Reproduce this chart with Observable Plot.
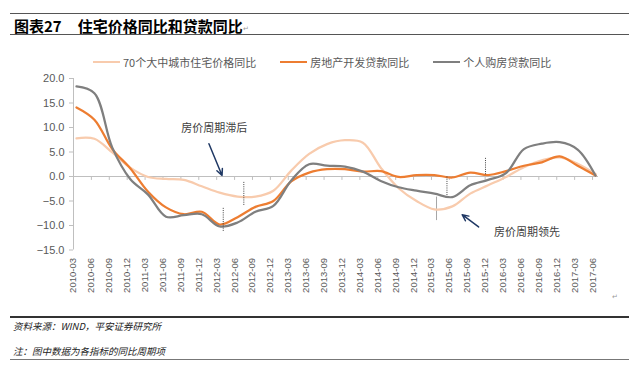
<!DOCTYPE html>
<html><head><meta charset="utf-8">
<script src="https://cdn.jsdelivr.net/npm/d3@7"></script>
<script src="https://cdn.jsdelivr.net/npm/@observablehq/plot@0.6"></script>
<style>
html,body{margin:0;padding:0;background:#fff;}
#wrap{position:relative;width:640px;height:374px;overflow:hidden;font-family:"Noto Sans CJK SC","Liberation Sans",sans-serif;}
#chart{position:absolute;left:0;top:0;}
.hr{position:absolute;left:10px;width:619px;}
#title{position:absolute;left:14px;top:16px;font-size:15px;font-weight:bold;color:#000;line-height:19px;white-space:nowrap;}
#title .num{margin-right:16px;}
#legend{position:absolute;left:93px;top:54px;display:flex;gap:24px;font-size:11px;color:#595959;line-height:16px;white-space:nowrap;}
#legend .item{display:flex;align-items:center;gap:3px;}
#legend .sw{display:inline-block;width:27px;height:2.25px;}
.foot{position:absolute;left:13px;font-size:9.5px;font-style:italic;color:#222;line-height:14px;white-space:nowrap;}
.pm{position:absolute;font-size:7px;color:#999;line-height:8px;}
</style></head>
<body>
<div id="wrap">
  <div id="chart"></div>
  <div class="hr" style="top:12.5px;height:1px;background:#555;"></div>
  <div id="title"><span class="num">图表27</span>住宅价格同比和贷款同比</div>
  <span class="pm" style="left:243px;top:24px;">↵</span>
  <div class="hr" style="top:33.5px;height:1px;background:#555;"></div>
  <div id="legend"></div>
  <span class="pm" style="left:612px;top:292px;">↵</span>
  <div class="hr" style="top:316px;height:1.5px;background:#333;"></div>
  <div class="foot" style="top:319px;">资料来源：WIND，平安证券研究所</div>
  <div class="foot" style="top:344px;">注：图中数据为各指标的同比周期项</div>
  <div class="hr" style="top:358.5px;height:1px;background:#777;"></div>
</div>
<script>
// ---- data ----
const quarters = ["2010-03","2010-06","2010-09","2010-12","2011-03","2011-06","2011-09","2011-12",
  "2012-03","2012-06","2012-09","2012-12","2013-03","2013-06","2013-09","2013-12",
  "2014-03","2014-06","2014-09","2014-12","2015-03","2015-06","2015-09","2015-12",
  "2016-03","2016-06","2016-09","2016-12","2017-03","2017-06"];
const housePrice = [7.8, 7.7, 4.9, 1.8, -0.1, -0.5, -0.7, -2.0, -3.3, -4.1, -4.1, -2.9,
  1.2, 4.6, 6.6, 7.4, 6.9, 1.8, -2.4, -5.0, -6.7, -6.1, -3.5, -1.8, -0.1, 1.9, 3.3, 3.9, 2.6, 0.5];
const devLoan = [14.1, 11.6, 5.6, 1.7, -3.1, -6.3, -7.7, -7.2, -9.8, -8.3, -6.2, -5.0,
  -1.0, 0.8, 1.5, 1.5, 1.0, 1.1, -0.1, 0.3, 0.3, -0.2, 0.8, 0.3, 1.1, 2.2, 2.9, 4.1, 2.2, 0.2];
const mortgage = [18.4, 17.0, 5.9, -0.5, -3.7, -8.2, -7.9, -7.7, -10.2, -9.4, -7.2, -6.0,
  -0.8, 2.5, 2.2, 2.0, 1.0, -0.9, -2.2, -2.9, -3.5, -4.2, -1.8, -0.7, 0.7, 5.6, 6.7, 7.0, 5.5, 0.2];
const seriesNames = ["70个大中城市住宅价格同比","房地产开发贷款同比","个人购房贷款同比"];
const seriesColors = ["#F8CBAD","#ED7D31","#7F7F7F"];
const yTicks = [-15, -10, -5, 0, 5, 10, 15, 20];
const notes = ["房价周期滞后","房价周期领先"];

// ---- helpers ----
const monthIdx = q => { const [y, m] = q.split("-").map(Number); return (y - 2010) * 12 + (m - 3); };
const pos = q => monthIdx(q) + 0.5;
const allSeries = [housePrice, devLoan, mortgage];
const rows = seriesNames.flatMap((s, k) => quarters.map((q, i) => ({series: s, x: pos(q), v: allSeries[k][i]})));
const bounds = quarters.map(monthIdx);

// legend
const leg = document.getElementById("legend");
seriesNames.forEach((s, k) => {
  const it = document.createElement("div"); it.className = "item";
  const sw = document.createElement("span"); sw.className = "sw"; sw.style.background = seriesColors[k];
  const tx = document.createElement("span"); tx.textContent = s;
  it.append(sw, tx); leg.append(it);
});

// annotation definitions (data units: month position, value)
const annText = [{t: notes[0], x: 23.6, y: 9.8}, {t: notes[1], x: 76.0, y: -11.4}];
const arrows = [{x1: 22.7, y1: 6.7, x2: 24.9, y2: 0.2}, {x1: 67.9, y1: -10.3, x2: 65.15, y2: -7.8}];
const dotted = [{x: 25.1, y1: -6.5, y2: -11.4}, {x: 28.55, y1: -1.2, y2: -5.9},
  {x: 62.6, y1: -0.1, y2: -3.9}, {x: 69.06, y1: 3.7, y2: 0.2}];
const solid = [{x: 60.85, y1: -4.2, y2: -9.0}];

const chart = Plot.plot({
  width: 640, height: 374,
  marginLeft: 73, marginRight: 42, marginTop: 78, marginBottom: 124.5,
  x: {domain: [0, 88], axis: null},
  y: {domain: [-15, 20], axis: null},
  color: {domain: seriesNames, range: seriesColors},
  style: {fontFamily: '"Liberation Sans","Noto Sans CJK SC",sans-serif', fontSize: "10px", background: "transparent", overflow: "visible"},
  marks: [
    Plot.ruleX([0], {stroke: "#bfbfbf"}),
    Plot.axisY({ticks: yTicks, tickFormat: d3.format(".1f"), tickSize: 4, tickPadding: 5,
      fontSize: 11, stroke: "#bfbfbf", fill: "#595959", label: null}),
    Plot.ruleY([0], {stroke: "#bfbfbf"}),
    Plot.ruleX(bounds, {x: d => d, y1: 0, y2: -0.8, stroke: "#bfbfbf"}),
    Plot.text(quarters, {x: pos, frameAnchor: "bottom", rotate: -90, textAnchor: "end", dy: 8,
      fontSize: 9.5, fill: "#595959"}),
    Plot.ruleX(solid, {x: "x", y1: "y1", y2: "y2", stroke: "#a6a6a6", strokeWidth: 1}),
    Plot.line(rows, {x: "x", y: "v", z: "series", stroke: "series", curve: "catmull-rom", strokeWidth: 2.25}),
    Plot.ruleX(dotted, {x: "x", y1: "y1", y2: "y2", stroke: "#404040", strokeWidth: 1, strokeDasharray: "1,1.2"}),
    Plot.arrow(arrows, {x1: "x1", y1: "y1", x2: "x2", y2: "y2", stroke: "#1F3864", strokeWidth: 1.5, headLength: 7, headAngle: 50}),
    Plot.text(annText, {x: "x", y: "y", text: "t", fontSize: 11, fill: "#404040",
      fontFamily: '"Noto Sans CJK SC",sans-serif'})
  ]
});
document.getElementById("chart").append(chart);
</script>
</body></html>
